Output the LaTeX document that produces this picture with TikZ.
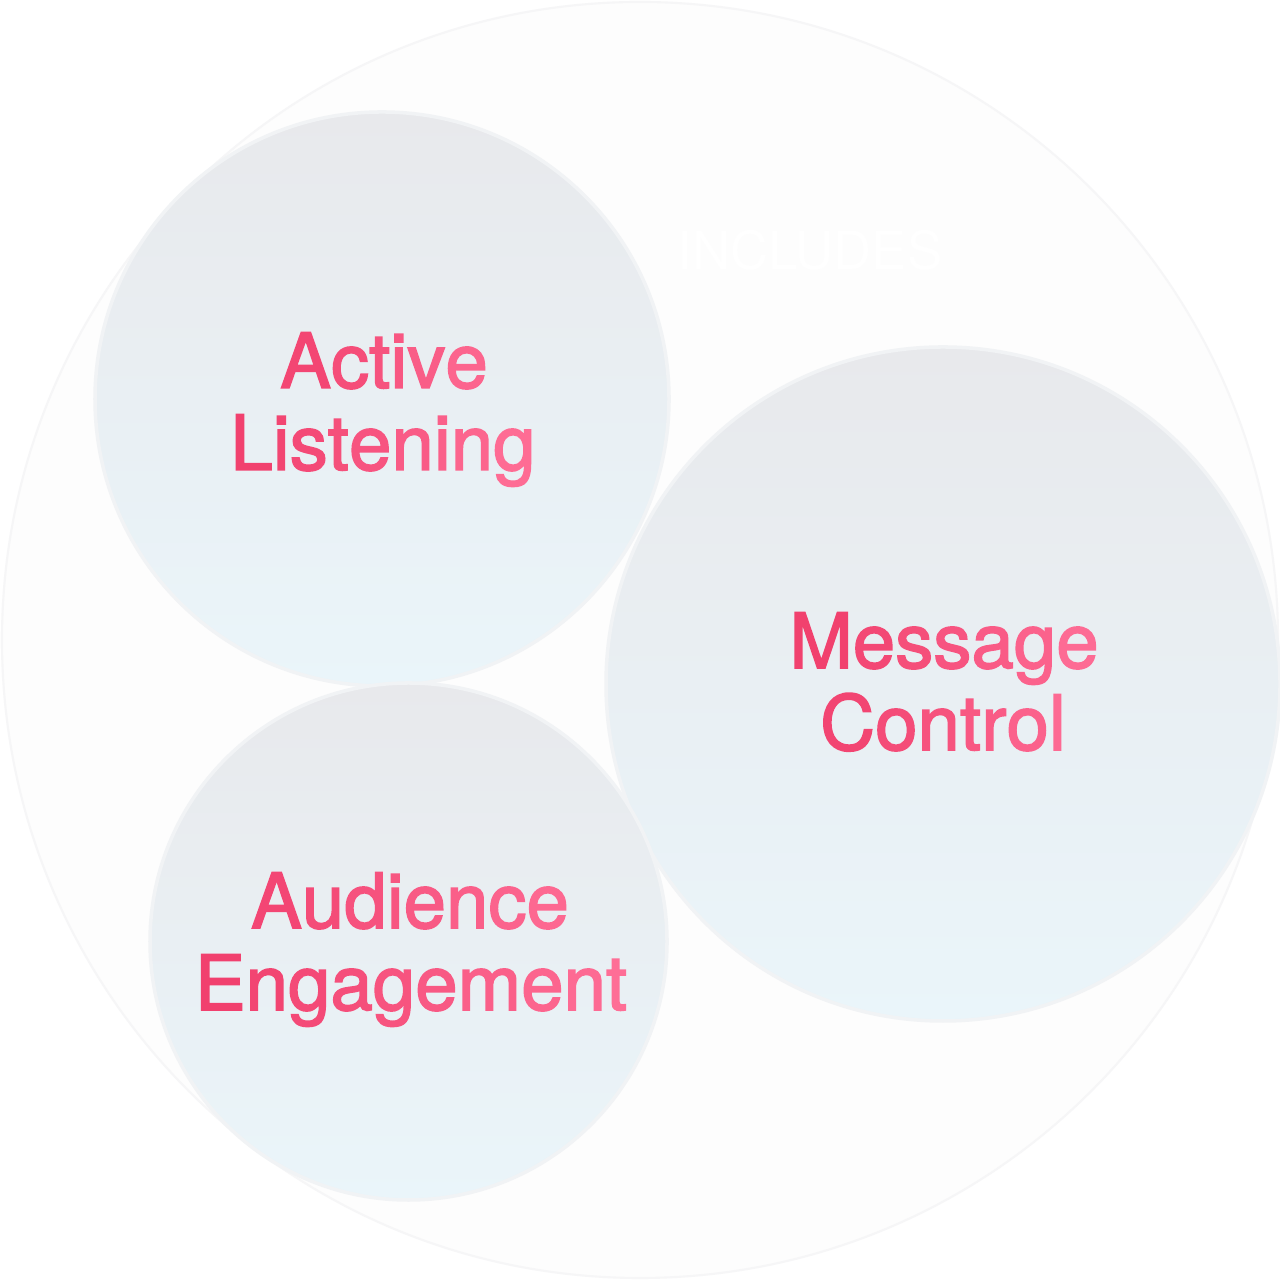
\documentclass[tikz,border=0pt]{standalone}
\usepackage{fontspec}
\setmainfont{TeX Gyre Heros}
\newfontfamily\medfont[FakeBold=2]{TeX Gyre Heros}
\definecolor{outerfill}{HTML}{FDFDFD}
\definecolor{outerline}{HTML}{F6F6F7}
\definecolor{bubtop}{HTML}{E8E9EC}
\definecolor{bubbot}{HTML}{EAF5FA}
\definecolor{bubline}{HTML}{F1F3F5}
\definecolor{pinkL}{HTML}{F03E6C}
\definecolor{pinkR}{HTML}{FF7098}
\newcommand\gc[2]{{\color{pinkR!#1!pinkL}#2}}
\tikzset{
  bubble/.style={circle, inner sep=0pt, top color=bubtop, bottom color=bubbot, draw=bubline, line width=1pt},
  lbl/.style={font=\medfont\fontsize{21.7}{26}\selectfont, anchor=base, inner sep=0pt}
}
\begin{document}
\begin{tikzpicture}
  \useasboundingbox[fill=white] (0,0) rectangle (12.8,12.8);
  \node[circle, inner sep=0pt, minimum size=12.76cm, fill=outerfill, draw=outerline, line width=0.6pt] (outer) at (6.40,6.40) {};
  \node[font=\fontsize{15}{18}\selectfont, text=white, anchor=base] (inc) at (8.10,10.10) {INCLUDES};
  \node[bubble, minimum size=5.74cm] (al) at (3.82,8.81) {};
  \node[bubble, minimum size=6.74cm] (mc) at (9.43,5.96) {};
  \node[bubble, minimum size=5.17cm] (ae) at (4.085,3.385) {};
  \node[lbl] (al1) at (3.84,8.92) {\gc{16}{A}\gc{30}{c}\gc{42}{t}\gc{50}{i}\gc{62}{v}\gc{78}{e}};
  \node[lbl] (al2) at (3.83,8.10) {\gc{5}{L}\gc{15}{i}\gc{25}{s}\gc{35}{t}\gc{45}{e}\gc{58}{n}\gc{68}{i}\gc{78}{n}\gc{92}{g}};
  \node[lbl] (mc1) at (9.44,6.12) {\gc{5}{M}\gc{20}{e}\gc{33}{s}\gc{45}{s}\gc{58}{a}\gc{72}{g}\gc{90}{e}};
  \node[lbl] (mc2) at (9.43,5.30) {\gc{14}{C}\gc{28}{o}\gc{42}{n}\gc{52}{t}\gc{60}{r}\gc{72}{o}\gc{88}{l}};
  \node[lbl] (ae1) at (4.10,3.52) {\gc{17}{A}\gc{28}{u}\gc{40}{d}\gc{48}{i}\gc{56}{e}\gc{65}{n}\gc{75}{c}\gc{84}{e}};
  \node[lbl] (ae2) at (4.11,2.70) {\gc{4}{E}\gc{14}{n}\gc{24}{g}\gc{34}{a}\gc{44}{g}\gc{54}{e}\gc{66}{m}\gc{78}{e}\gc{88}{n}\gc{96}{t}};
\end{tikzpicture}
\end{document}
